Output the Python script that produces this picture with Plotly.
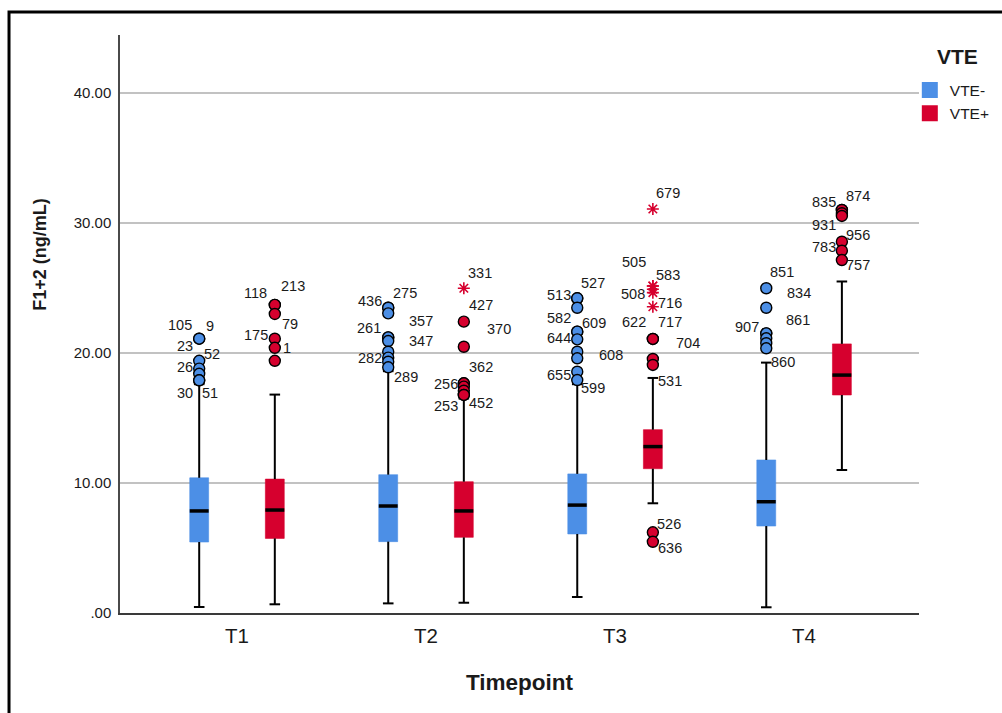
import plotly.graph_objects as go

# ---------------- data ----------------
timepoints = ["T1", "T2", "T3", "T4"]

# VTE- box statistics
neg_lo = [0.46, 0.74, 1.23, 0.44]
neg_q1 = [5.46, 5.49, 6.08, 6.69]
neg_med = [7.85, 8.23, 8.30, 8.56]
neg_q3 = [10.40, 10.64, 10.70, 11.77]
neg_hi = [17.6, 18.6, 17.6, 19.26]

# VTE+ box statistics
pos_lo = [0.67, 0.79, 8.44, 11.0]
pos_q1 = [5.74, 5.82, 11.1, 16.77]
pos_med = [7.92, 7.85, 12.8, 18.3]
pos_q3 = [10.3, 10.1, 14.1, 20.7]
pos_hi = [16.8, 16.5, 18.08, 25.5]

# outliers (circles): values and case ids per timepoint
neg_out_vals = [
    [21.1, 21.1, 19.4, 18.8, 18.4, 17.9, 17.9],
    [23.48, 23.48, 23.05, 21.2, 21.2, 20.92, 20.1, 19.64, 19.33, 18.9],
    [24.21, 24.21, 23.48, 21.64, 21.64, 21.05, 20.1, 19.59, 18.56, 17.92],
    [24.98, 23.48, 21.51, 21.51, 21.13, 20.75, 20.36],
]
neg_out_ids = [
    ["105", "9", "23", "52", "26", "30", "51"],
    ["436", "275", "", "261", "357", "347", "", "282", "", "289"],
    ["513", "527", "", "582", "609", "644", "608", "", "655", "599"],
    ["851", "834", "907", "861", "", "", "860"],
]
pos_out_vals = [
    [23.7, 23.7, 23.0, 21.1, 20.4, 19.4],
    [22.41, 20.48, 17.67, 17.67, 17.41, 17.1, 16.77, 16.77],
    [21.08, 21.08, 19.54, 19.08, 6.21, 5.48],
    [31.0, 31.0, 30.75, 30.54, 28.56, 27.87, 27.15],
]
pos_out_ids = [
    ["118", "213", "79", "175", "1", ""],
    ["427", "370", "362", "256", "", "", "253", "452"],
    ["622", "717", "704", "531", "526", "636"],
    ["835", "874", "", "931", "956", "783", "757"],
]
# extreme values (stars), VTE+ only
pos_ext_vals = [[], [24.98], [31.08, 25.15, 25.15, 24.9, 24.64, 23.56], []]
pos_ext_ids = [[], ["331"], ["679", "505", "583", "", "508", "716"], []]

# ---------------- label placement (pixel offsets from each point) ----------------
neg_out_shift = [
    [(-19, -14), (10.5, -12.5), (-14, -15), (13, -15), (-14, -7), (-14, 12.5), (11, 12.5)],
    [(-18.5, -6.5), (17, -15), (0, 0), (-19.5, -9), (33, -16.5), (33, 0), (0, 0), (-18.5, 0), (0, 0), (17.5, 9.5)],
    [(-18.5, -3.3), (16, -15.5), (0, 0), (-18, -13.4), (16.5, -8.4), (-18.5, -1.8), (33.7, 3.3), (0, 0), (-18, 3.3), (16, 8.3)],
    [(15.5, -16), (33, -15), (-19, -6.6), (32, -13.5), (0, 0), (0, 0), (16.5, 14)],
]
pos_out_shift = [
    [(-19, -12), (18, -19), (15, 10), (-19, -4), (12, 0.6), (0, 0)],
    [(17.5, -16.7), (35, -18), (17.5, -16), (-18.3, 1.2), (0, 0), (0, 0), (-18.3, 11), (17.5, 8)],
    [(-19, -17), (17, -16.5), (35.5, -15.7), (17, 16), (16, -8.6), (17, 6)],
    [(-18.2, -8.3), (16.3, -13.8), (0, 0), (-18.2, 9.3), (16.3, -6.7), (-18.2, -3.2), (16.3, 5)],
]
pos_ext_shift = [[], [(16, -15.5)], [(15, -15.7), (-18.5, -24), (15, -11), (0, 0), (-19.5, 1.5), (17, -4)], []]

BLUE = "#4C8FE6"
RED = "#D6002E"
FONT = "Liberation Sans, Arial, sans-serif"
LABEL_FONT = dict(size=14.5, color="#1a1a1a", family=FONT)
OFF = 0.2      # dodge offset of each group
BW = 0.1       # box width
CAP = 0.028    # whisker cap half width

fig = go.Figure()
annotations = []


def add_labels(x, vals, ids, shifts):
    for v, t, (dx, dy) in zip(vals, ids, shifts):
        if t:
            annotations.append(dict(x=x, y=v, xref="x", yref="y", text=t, showarrow=False,
                                    xshift=dx, yshift=-dy, font=LABEL_FONT))


def add_group(sign, color, name, lo, q1, med, q3, hi, ovals, oids, oshift,
              evals=None, eids=None, eshift=None):
    xs = [i + sign * OFF for i in range(len(timepoints))]
    # box body
    fig.add_trace(go.Bar(x=xs, base=q1, y=[b - a for a, b in zip(q1, q3)], width=BW,
                         marker=dict(color=color, line=dict(width=0.6, color=color)),
                         showlegend=False, hoverinfo="skip"))
    # whiskers + caps
    wx, wy = [], []
    for x, a, b, c, d in zip(xs, lo, q1, q3, hi):
        wx += [x, x, None, x, x, None, x - CAP, x + CAP, None, x - CAP, x + CAP, None]
        wy += [a, b, None, c, d, None, a, a, None, d, d, None]
    fig.add_trace(go.Scatter(x=wx, y=wy, mode="lines", line=dict(color="black", width=2),
                             showlegend=False, hoverinfo="skip"))
    # median
    mx, my = [], []
    for x, m in zip(xs, med):
        mx += [x - BW / 2, x + BW / 2, None]
        my += [m, m, None]
    fig.add_trace(go.Scatter(x=mx, y=my, mode="lines", line=dict(color="black", width=3.5),
                             showlegend=False, hoverinfo="skip"))
    # outliers
    px, py = [], []
    for x, vals, ids, sh in zip(xs, ovals, oids, oshift):
        px += [x] * len(vals)
        py += list(vals)
        add_labels(x, vals, ids, sh)
    fig.add_trace(go.Scatter(x=px, y=py, mode="markers",
                             marker=dict(symbol="circle", size=11, color=color,
                                         line=dict(color="black", width=1.4)),
                             showlegend=False, hoverinfo="skip"))
    if evals:
        ex, ey = [], []
        for x, vals, ids, sh in zip(xs, evals, eids, eshift):
            ex += [x] * len(vals)
            ey += list(vals)
            add_labels(x, vals, ids, sh)
        fig.add_trace(go.Scatter(x=ex, y=ey, mode="markers",
                                 marker=dict(symbol="asterisk-open", size=10, color=color,
                                             line=dict(color=color, width=1.6)),
                                 showlegend=False, hoverinfo="skip"))
    # legend entry
    fig.add_trace(go.Scatter(x=[None], y=[None], mode="markers", name=name,
                             marker=dict(symbol="square", size=17, color=color)))


add_group(-1, BLUE, "VTE-", neg_lo, neg_q1, neg_med, neg_q3, neg_hi,
          neg_out_vals, neg_out_ids, neg_out_shift)
add_group(1, RED, "VTE+", pos_lo, pos_q1, pos_med, pos_q3, pos_hi,
          pos_out_vals, pos_out_ids, pos_out_shift, pos_ext_vals, pos_ext_ids, pos_ext_shift)

# y-axis title placed like the original (above the vertical centre)
annotations.append(dict(x=-0.1, y=0.62, xref="paper", yref="paper", text="<b>F1+2 (ng/mL)</b>",
                        textangle=-90, showarrow=False, xanchor="center", yanchor="middle",
                        font=dict(size=18, family=FONT, color="#1a1a1a")))
# legend title
annotations.append(dict(x=1.0476, y=0.962, xref="paper", yref="paper", text="<b>VTE</b>",
                        showarrow=False, xanchor="center", yanchor="middle",
                        font=dict(size=21, family=FONT, color="#1a1a1a")))

fig.update_layout(
    width=1002, height=713,
    margin=dict(l=120, r=83, t=35, b=100, autoexpand=False),
    paper_bgcolor="white", plot_bgcolor="white",
    barmode="overlay",
    font=dict(family=FONT, color="#1a1a1a"),
    annotations=annotations,
    legend=dict(xref="container", yref="container", x=0.908, xanchor="left", y=0.897, yanchor="top",
                font=dict(size=15.5), itemwidth=30, tracegroupgap=0,
                bgcolor="rgba(0,0,0,0)"),
    shapes=[dict(type="rect", xref="paper", yref="paper",
                 x0=-0.1389, x1=1.3, y0=-0.4, y1=1.04,
                 line=dict(color="black", width=3), fillcolor="rgba(0,0,0,0)")],
)

fig.update_xaxes(range=[-0.619, 3.608], tickvals=list(range(len(timepoints))), ticktext=timepoints,
                 showgrid=False, zeroline=False, showline=True, linecolor="#3a3a3a", linewidth=2,
                 ticks="", tickfont=dict(size=20.5), ticklabelstandoff=3,
                 title=dict(text="<b>Timepoint</b>", font=dict(size=22.5), standoff=29))
fig.update_yaxes(range=[0, 44.46], tickvals=[0, 10, 20, 30, 40],
                 ticktext=[".00", "10.00", "20.00", "30.00", "40.00"],
                 showgrid=True, gridcolor="#c2c2c2", gridwidth=1.5, zeroline=False,
                 showline=True, linecolor="#4a4a4a", linewidth=1.5,
                 ticks="", tickfont=dict(size=15), ticklabelstandoff=4)

fig.write_html("out.html")
